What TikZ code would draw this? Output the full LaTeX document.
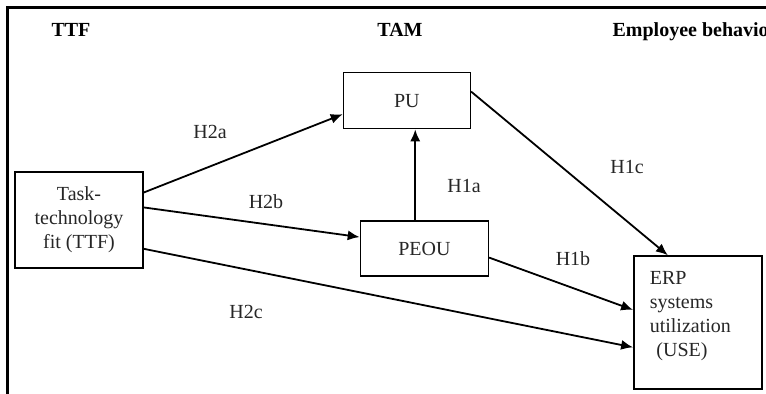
\documentclass[tikz,border=0pt]{standalone}
\usepackage{fontspec}
\setmainfont{Liberation Serif}
\usepackage{tikz}
\usetikzlibrary{arrows.meta}
\usetikzlibrary{positioning}

\begin{document}
\begin{tikzpicture}[x=0.5pt,y=-0.5pt,->,>={Latex[length=6pt,width=5pt]},line width=0.9pt,font=\fontsize{10}{12}\selectfont]
            % 样式
            \tikzstyle{box}=[draw=black,line width=0.7pt,align=center,inner sep=2pt,text=black!85]
            \tikzstyle{hyp}=[text=black!85,inner sep=1pt]
            \tikzstyle{head}=[font=\fontsize{10}{12}\selectfont\bfseries,text=black]

            \useasboundingbox (0,0) rectangle (766,394);
            \draw[-,line width=1.5pt] (766,8) -| (7,394); % 外框

            % 标题
            \node[head,anchor=base] (httf) at (71,37) {TTF};
            \node[head,anchor=base] (htam) at (400,37) {TAM};
            \node[head,anchor=base west] (hemp) at (605,37) {Employee behavior};

            % 方框
            \node[box,minimum width=64pt,minimum height=48pt] (ttf) at (79,220) {Task-\\technology\\fit (TTF)};
            \node[box,minimum width=63.5pt,minimum height=28pt] (pu) [above right=21pt and 99.5pt of ttf] {PU};
            \node[box,minimum width=64pt,minimum height=27.5pt] (peou) [below=45.5pt of pu,xshift=8.75pt] {PEOU};
            \node[box,align=left,text width=48pt,inner xsep=8pt,inner ysep=7.5pt,text height=6.8pt,text depth=44.7pt] (use) [right=72pt of peou,yshift=-37pt] {ERP\\systems\\utilization\\\ (USE)};

            % 箭头
            \path
            (ttf.23) edge (pu.192)
            (ttf.11) edge (peou.170)
            (ttf.-24) edge (use.201)
            (peou.108) edge (peou.108 |- pu.south)
            (pu.8) edge (use.114)
            (peou.-8) edge (use.169);

            % 假设
            \node[hyp] (h2a) at (210,132) {H2a};
            \node[hyp] (h2b) at (266,202) {H2b};
            \node[hyp] (h2c) at (246,312) {H2c};
            \node[hyp] (h1a) at (464,186) {H1a};
            \node[hyp] (h1b) at (573,259) {H1b};
            \node[hyp] (h1c) at (627,167) {H1c};
        \end{tikzpicture}
\end{document}
